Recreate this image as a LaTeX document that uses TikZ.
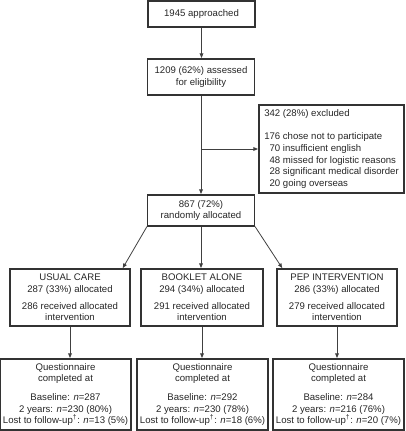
\documentclass[tikz,border=0pt]{standalone}
\usepackage{fontspec}
\setmainfont{Liberation Sans}
\usetikzlibrary{arrows.meta}

\begin{document}
\begin{tikzpicture}[x=0.75pt,y=0.75pt,yscale=-1,xscale=1,
  every node/.style={font=\fontsize{7.2}{8.8}\selectfont, text=black!85},
  box/.style={draw=black!80, line width=0.8pt, align=center, inner sep=1pt},
  exclbox/.style={draw=black!80, line width=0.8pt, align=left, inner sep=1pt, minimum width=108.75pt},
  flow/.style={draw=black!75, line width=0.6pt, -{Latex[length=3.8pt,width=3.2pt]}},
  plain/.style={draw=black!75, line width=0.6pt}]
\useasboundingbox (0,0) rectangle (405,431);

% Top of the chart
\node [box, minimum width=80.25pt, minimum height=19.5pt] (appr) at (201.5,14) {1945 approached};
\node [box, minimum width=80.25pt, minimum height=27pt] (assess) at (201,77) {1209 (62\%) assessed\\for eligibility};
\node [exclbox, minimum height=66pt] (excl) at (331.5,149) {342 (28\%) excluded\\[8.8pt]
176 chose not to participate\\
\phantom{1}70 insufficient english\\
\phantom{1}48 missed for logistic reasons\\
\phantom{1}28 significant medical disorder\\
\phantom{1}20 going overseas};
\node [box, minimum width=80.25pt, minimum height=23.25pt] (random) at (201,210.5) {867 (72\%)\\randomly allocated};

% Allocation
\node [box, minimum width=90pt, minimum height=42.75pt] (usual) at (70,297.5) {USUAL CARE\\287 (33\%) allocated\\[3.5pt]286 received allocated\\intervention};
\node [box, minimum width=91.5pt, minimum height=42.75pt] (booklet) at (202,297.5) {BOOKLET ALONE\\294 (34\%) allocated\\[3.5pt]291 received allocated\\intervention};
\node [box, minimum width=90pt, minimum height=42.75pt] (pep) at (337,297.5) {PEP INTERVENTION\\286 (33\%) allocated\\[3.5pt]279 received allocated\\intervention};

% Follow-up
\node [box, minimum width=98.25pt, minimum height=53.25pt] (qusual) at (65.5,394.5) {Questionnaire\\completed at\\[5pt]Baseline: \textit{n}=287\\2 years: \textit{n}=230 (80\%)\\Lost to follow-up\textsuperscript{\textdagger}: \textit{n}=13 (5\%)};
\node [box, minimum width=98.25pt, minimum height=53.25pt] (qbooklet) at (202.5,394.5) {Questionnaire\\completed at\\[5pt]Baseline: \textit{n}=292\\2 years: \textit{n}=230 (78\%)\\Lost to follow-up\textsuperscript{\textdagger}: \textit{n}=18 (6\%)};
\node [box, minimum width=98.25pt, minimum height=53.25pt] (qpep) at (338.5,394.5) {Questionnaire\\completed at\\[5pt]Baseline: \textit{n}=284\\2 years: \textit{n}=216 (76\%)\\Lost to follow-up\textsuperscript{\textdagger}: \textit{n}=20 (7\%)};

% Connectors
\coordinate (split) at (assess.south |- excl.west);
\draw [flow] (appr.south) -- (appr.south |- assess.north);
\draw [flow] (assess.south) -- (random.north);
\draw [flow] (split) -- (excl.west);
\draw [flow] (random.south west) -- ([xshift=-6pt]usual.north east);
\draw [flow] (random.south) -- (random.south |- booklet.north);
\draw [flow] (random.south east) -- ([xshift=4.5pt]pep.north west);
\draw [flow] (usual.south) -- (usual.south |- qusual.north);
\draw [flow] (booklet.south) -- (booklet.south |- qbooklet.north);
\draw [flow] (pep.south) -- (pep.south |- qpep.north);

\end{tikzpicture}
\end{document}
